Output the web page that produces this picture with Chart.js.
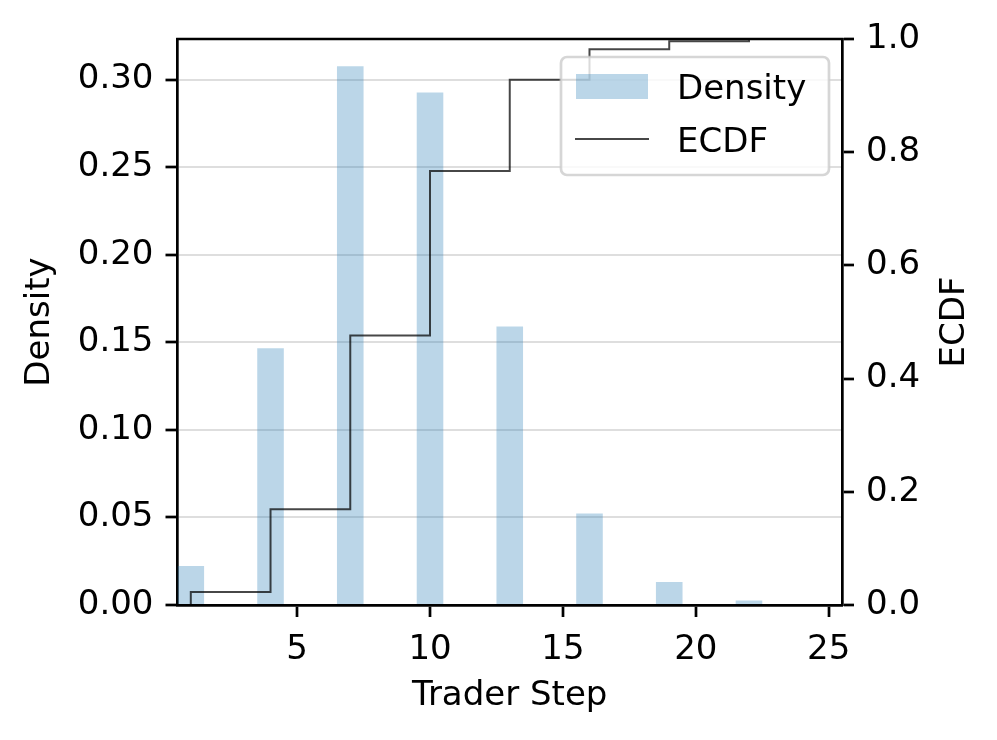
<!DOCTYPE html>
<html>
<head>
<meta charset="utf-8">
<script src="https://cdn.jsdelivr.net/npm/chart.js@4"></script>
<style>
  html, body { margin: 0; padding: 0; background: #fff; }
  #chart { display: block; }
</style>
</head>
<body>
<canvas id="chart" width="997" height="740"></canvas>
<script>
// Trader step histogram (density) with its ECDF on the right axis
const steps = [1, 4, 7, 10, 13, 16, 19, 22];
const density = [0.0223, 0.1466, 0.3076, 0.2926, 0.1590, 0.0523, 0.0131, 0.0025];

const ecdfSteps = [1, 1, 4, 7, 10, 13, 16, 19, 22];
const ecdfValues = [0, 0.023, 0.169, 0.476, 0.767, 0.928, 0.982, 0.996, 1.0];

const stepTicks = [5, 10, 15, 20, 25];
const densityTicks = [0, 0.05, 0.10, 0.15, 0.20, 0.25, 0.30];
const ecdfTicks = [0, 0.2, 0.4, 0.6, 0.8, 1.0];

const FONT = '"DejaVu Sans", "Liberation Sans", sans-serif';
const FONT_SIZE = 34;
const BAR_COLOR = 'rgba(31, 119, 180, 0.3)';
const LINE_COLOR = 'rgba(0, 0, 0, 0.72)';
const SPINE = 2.7;

Chart.defaults.font.family = FONT;
Chart.defaults.font.size = FONT_SIZE;
Chart.defaults.color = '#000';

function fixedTicks(values) {
    return scale => { scale.ticks = values.map(v => ({ value: v })); };
}

function tickGrid(onArea) {
    return {
        display: true,
        drawOnChartArea: onArea,
        offset: false,
        color: 'rgba(0, 0, 0, 0.13)',
        lineWidth: 2,
        drawTicks: true,
        tickLength: 12,
        tickWidth: SPINE,
        tickColor: '#000'
    };
}

const border = { display: true, color: '#000', width: SPINE };

// top spine, legend box and right axis label
const extras = {
    id: 'extras',
    afterDatasetsDraw(chart) {
        const { ctx, chartArea: a } = chart;
        ctx.save();

        ctx.strokeStyle = '#000';
        ctx.lineWidth = SPINE;
        ctx.beginPath();
        ctx.moveTo(a.left - SPINE / 2, a.top);
        ctx.lineTo(a.right + SPINE / 2, a.top);
        ctx.stroke();

        // legend
        const bx = a.right - 281, by = a.top + 18, bw = 268, bh = 118;
        ctx.beginPath();
        ctx.roundRect(bx, by, bw, bh, 6);
        ctx.fillStyle = 'rgba(255, 255, 255, 0.8)';
        ctx.fill();
        ctx.strokeStyle = 'rgba(204, 204, 204, 0.8)';
        ctx.lineWidth = 2.7;
        ctx.stroke();

        ctx.fillStyle = BAR_COLOR;
        ctx.fillRect(bx + 15, by + 17, 72, 25);

        ctx.strokeStyle = LINE_COLOR;
        ctx.lineWidth = 2;
        ctx.beginPath();
        ctx.moveTo(bx + 14, by + 82);
        ctx.lineTo(bx + 88, by + 82);
        ctx.stroke();

        ctx.fillStyle = '#000';
        ctx.font = `${FONT_SIZE}px ${FONT}`;
        ctx.textAlign = 'left';
        ctx.textBaseline = 'alphabetic';
        ctx.fillText(chart.data.datasets[0].label, bx + 116, by + 42);
        ctx.fillText(chart.data.datasets[1].label, bx + 116, by + 95);

        // right axis title reads bottom-to-top like the left one
        ctx.translate(955, (a.top + a.bottom) / 2);
        ctx.rotate(-Math.PI / 2);
        ctx.textAlign = 'center';
        ctx.textBaseline = 'middle';
        ctx.fillText('ECDF', 0, 0);

        ctx.restore();
    }
};

new Chart(document.getElementById('chart'), {
    data: {
        datasets: [{
            type: 'bar',
            label: 'Density',
            data: steps.map((s, i) => ({ x: s, y: density[i] })),
            backgroundColor: BAR_COLOR,
            borderWidth: 0,
            categoryPercentage: 1,
            barPercentage: 1 / 3,
            xAxisID: 'x',
            yAxisID: 'y',
            order: 2
        }, {
            type: 'line',
            label: 'ECDF',
            data: ecdfSteps.map((s, i) => ({ x: s, y: ecdfValues[i] })),
            borderColor: LINE_COLOR,
            borderWidth: 2,
            stepped: 'before',
            pointRadius: 0,
            fill: false,
            xAxisID: 'x',
            yAxisID: 'y2',
            order: 1
        }]
    },
    options: {
        responsive: false,
        devicePixelRatio: 1,
        animation: false,
        events: [],
        layout: { padding: { top: 39, left: 0, right: 0, bottom: 0 } },
        plugins: {
            legend: { display: false },
            tooltip: { enabled: false }
        },
        scales: {
            x: {
                type: 'linear',
                position: 'bottom',
                offset: false,
                min: 0.5, max: 25.5,
                bounds: 'data',
                afterBuildTicks: fixedTicks(stepTicks),
                afterFit: s => { s.height = 135; },
                grid: tickGrid(false),
                border: border,
                ticks: { padding: 13, maxRotation: 0, autoSkip: false },
                title: {
                    display: true,
                    text: 'Trader Step',
                    padding: { top: 0, bottom: 23 }
                }
            },
            y: {
                type: 'linear',
                position: 'left',
                min: 0, max: 0.3232,
                bounds: 'data',
                afterBuildTicks: fixedTicks(densityTicks),
                afterFit: s => { s.width = 177.5; },
                grid: tickGrid(true),
                border: border,
                ticks: { padding: 12, callback: v => v.toFixed(2) },
                title: {
                    display: true,
                    text: 'Density',
                    padding: { top: 20, bottom: 0 }
                }
            },
            y2: {
                type: 'linear',
                position: 'right',
                min: 0, max: 1,
                bounds: 'data',
                afterBuildTicks: fixedTicks(ecdfTicks),
                afterFit: s => { s.width = 155; },
                grid: tickGrid(false),
                border: border,
                ticks: { padding: 12, callback: v => v.toFixed(1) }
            }
        }
    },
    plugins: [extras]
});
</script>
</body>
</html>
